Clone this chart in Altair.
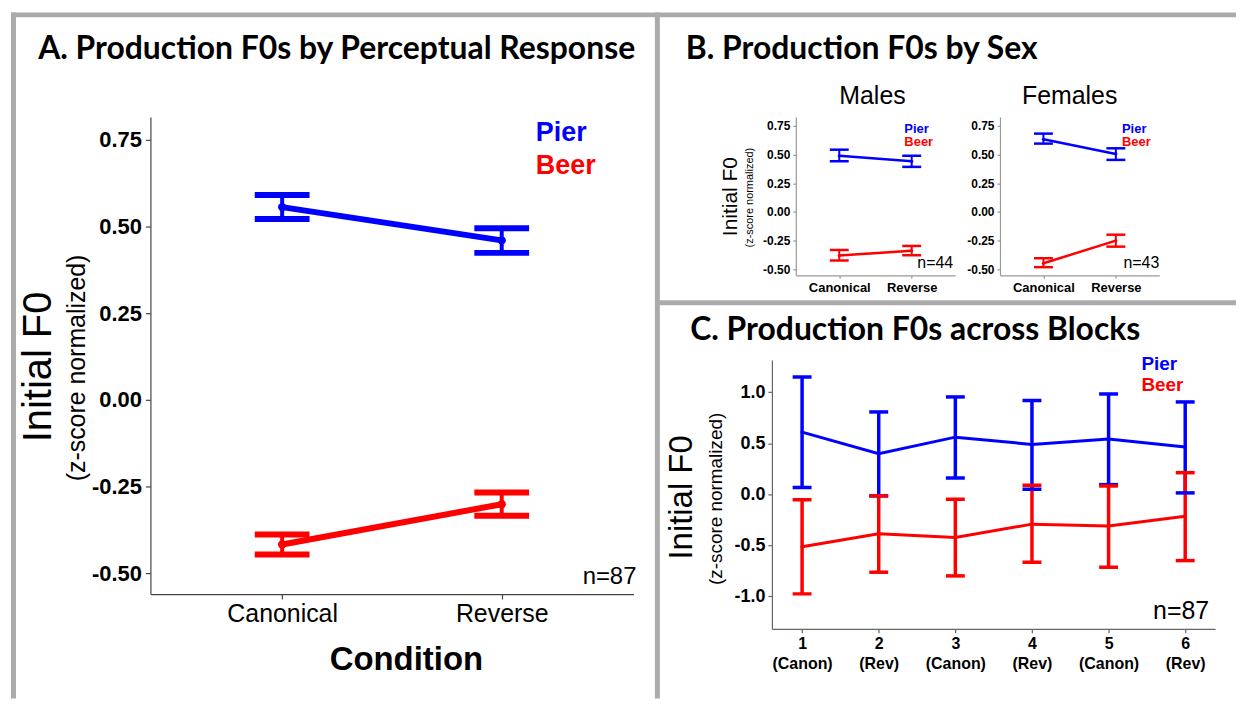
import altair as alt
import pandas as pd

FONT = "Liberation Sans, Arial, sans-serif"
TFONT = "Lato, Open Sans, sans-serif"
BLUE = "#0000ff"
RED = "#ff0000"
BORDER = "#ababab"

# ---------------- data ----------------
series_names = ["Pier", "Beer"]
conditions = ["Canonical", "Reverse"]

# Panel A
a_pier_mean = [0.556, 0.460]
a_pier_lo = [0.522, 0.424]
a_pier_hi = [0.591, 0.495]
a_beer_mean = [-0.417, -0.301]
a_beer_lo = [-0.446, -0.334]
a_beer_hi = [-0.388, -0.267]

# Panel B - Males
m_pier_mean = [0.490, 0.442]
m_pier_lo = [0.442, 0.393]
m_pier_hi = [0.543, 0.490]
m_beer_mean = [-0.380, -0.337]
m_beer_lo = [-0.423, -0.377]
m_beer_hi = [-0.331, -0.296]

# Panel B - Females
f_pier_mean = [0.634, 0.506]
f_pier_lo = [0.596, 0.454]
f_pier_hi = [0.683, 0.555]
f_beer_mean = [-0.447, -0.250]
f_beer_lo = [-0.481, -0.302]
f_beer_hi = [-0.403, -0.198]

# Panel C
blocks = [1, 2, 3, 4, 5, 6]
block_conditions = ["(Canon)", "(Rev)", "(Canon)", "(Rev)", "(Canon)", "(Rev)"]
c_pier_mean = [0.608, 0.397, 0.559, 0.488, 0.540, 0.462]
c_pier_lo = [0.065, -0.016, 0.159, 0.049, 0.094, 0.013]
c_pier_hi = [1.148, 0.806, 0.953, 0.917, 0.982, 0.904]
c_beer_mean = [-0.514, -0.387, -0.423, -0.293, -0.312, -0.215]
c_beer_lo = [-0.976, -0.764, -0.800, -0.667, -0.715, -0.650]
c_beer_hi = [-0.055, -0.016, -0.049, 0.088, 0.081, 0.211]

y_ticks_ab = [-0.5, -0.25, 0.0, 0.25, 0.5, 0.75]
y_ticks_c = [-1.0, -0.5, 0.0, 0.5, 1.0]


def series_df(xs, pm, plo, phi, bm, blo, bhi):
    rows = []
    for name, m, lo, hi in [("Pier", pm, plo, phi), ("Beer", bm, blo, bhi)]:
        for i, x in enumerate(xs):
            rows.append({"series": name, "x": x, "mean": m[i], "lo": lo[i], "hi": hi[i]})
    return pd.DataFrame(rows)


def text_layer(txt, x, y, size, color="black", weight="normal", font=FONT,
               align="left", baseline="alphabetic", angle=0):
    df = pd.DataFrame({"t": [txt]})
    kw = dict(fontSize=size, color=color, fontWeight=weight, font=font,
              align=align, baseline=baseline)
    if angle:
        kw["angle"] = angle
    return alt.Chart(df).mark_text(**kw).encode(
        x=alt.value(x), y=alt.value(y), text="t:N")


def hline(x, x2, y, width=5, color=BORDER):
    df = pd.DataFrame({"k": [0]})
    return alt.Chart(df).mark_rule(strokeWidth=width, color=color, strokeCap="butt").encode(
        x=alt.value(x), x2=alt.value(x2), y=alt.value(y))


def vline(x, y, y2, width=5, color=BORDER):
    df = pd.DataFrame({"k": [0]})
    return alt.Chart(df).mark_rule(strokeWidth=width, color=color, strokeCap="butt").encode(
        x=alt.value(x), y=alt.value(y), y2=alt.value(y2))


def panel(df, xdom, ydom, yvals, ydec, xvals, xlabel_expr,
          cap_w, cap_th, line_w, rule_w, pt_size,
          ylab_size, xlab_size, xlab_weight, axis_color, tick_size,
          xlab_pad, ylab_pad, line_height=None):
    color = alt.Color("series:N", scale=alt.Scale(domain=series_names, range=[BLUE, RED]),
                      legend=None)
    xs = alt.Scale(domain=xdom, nice=False, zero=False)
    ys = alt.Scale(domain=ydom, nice=False, zero=False)
    xkw = dict(values=xvals, labelExpr=xlabel_expr, title=None, labelFont=FONT,
               labelFontSize=xlab_size, labelFontWeight=xlab_weight, labelColor="black",
               domainColor=axis_color, tickColor=axis_color, tickSize=tick_size,
               labelPadding=xlab_pad, grid=False, labelAngle=0, labelFlush=False,
               labelOverlap=False, domainWidth=1.2, tickWidth=1.2)
    if line_height:
        xkw["labelLineHeight"] = line_height
    xaxis = alt.Axis(**xkw)
    yexpr = "(datum.value < 0 ? '-' : '') + format(abs(datum.value), '.%df')" % ydec
    yaxis = alt.Axis(values=yvals, labelExpr=yexpr, title=None, labelFont=FONT,
                     labelFontSize=ylab_size, labelFontWeight="bold", labelColor="black",
                     domainColor=axis_color, tickColor=axis_color, tickSize=tick_size,
                     labelPadding=ylab_pad, grid=False, labelFlush=False,
                     labelOverlap=False, domainWidth=1.2, tickWidth=1.2)

    def X():
        return alt.X("x:Q", scale=xs, axis=xaxis)

    def Y(f):
        return alt.Y(f"{f}:Q", scale=ys, axis=yaxis)

    base = alt.Chart(df)
    line = base.mark_line(strokeWidth=line_w).encode(x=X(), y=Y("mean"), color=color,
                                                      detail="series:N")
    rule = base.mark_rule(strokeWidth=rule_w).encode(x=X(), y=Y("lo"), y2="hi:Q", color=color)
    tlo = base.mark_tick(orient="horizontal", size=cap_w, thickness=cap_th, opacity=1).encode(
        x=X(), y=Y("lo"), color=color)
    thi = base.mark_tick(orient="horizontal", size=cap_w, thickness=cap_th, opacity=1).encode(
        x=X(), y=Y("hi"), color=color)
    pts = base.mark_point(filled=True, size=pt_size, opacity=1).encode(
        x=X(), y=Y("mean"), color=color)
    return [line, rule, tlo, thi, pts]


cond_expr = "[" + ",".join("'%s'" % c for c in conditions) + "][datum.value - 1]"
block_expr = ("[format(datum.value, 'd'), [" + ",".join("'%s'" % c for c in block_conditions)
              + "][datum.value - 1]]")

# ---------------- Panel A ----------------
dfA = series_df([1, 2], a_pier_mean, a_pier_lo, a_pier_hi, a_beer_mean, a_beer_lo, a_beer_hi)
layersA = panel(dfA, [0.4, 2.6], [-0.560, 0.816], y_ticks_ab, 2,
                [1, 2], cond_expr, 55, 6, 6, 4, 70,
                22, 25, "normal", "#444444", 5, 3, 4)
extrasA = [
    # frame lines (relative to panel A plot origin)
    hline(-140, 1090, -102.5),
    vline(-137.5, -105, 584),
    vline(509, -105, 584),
    hline(509, 1090, 186.5),
    text_layer("A. Production F0s by Perceptual Response", 187, -58, 32, weight="bold",
               font=TFONT, align="center"),
    text_layer("Initial F0", -112, 251, 40, align="center", baseline="middle", angle=270),
    text_layer("(z-score normalized)", -74, 252, 25, align="center", baseline="middle",
               angle=270),
    text_layer("Condition", 257, 555, 33, weight="bold", align="center"),
    text_layer("Pier", 387, 24, 27, color=BLUE, weight="bold"),
    text_layer("Beer", 387, 57, 27, color=RED, weight="bold"),
    text_layer("n=87", 488, 469, 24, align="right"),
]
chartA = alt.layer(*(layersA + extrasA)).properties(width=485, height=479)

# ---------------- Panel B ----------------
dfM = series_df([1, 2], m_pier_mean, m_pier_lo, m_pier_hi, m_beer_mean, m_beer_lo, m_beer_hi)
dfF = series_df([1, 2], f_pier_mean, f_pier_lo, f_pier_hi, f_beer_mean, f_beer_lo, f_beer_hi)
layersM = panel(dfM, [0.4, 2.6], [-0.552, 0.828], y_ticks_ab, 2,
                [1, 2], cond_expr, 19, 2.5, 2.5, 2, 10,
                12, 13, "bold", "#999999", 3, 3, 3)
layersF = panel(dfF, [0.4, 2.6], [-0.552, 0.828], y_ticks_ab, 2,
                [1, 2], cond_expr, 19, 2.5, 2.5, 2, 10,
                12, 13, "bold", "#999999", 3, 3, 3)
extrasM = [
    text_layer("B. Production F0s by Sex", -110.5, -58, 32, weight="bold", font=TFONT),
    text_layer("Males", 77, -13, 25, align="center"),
    text_layer("Initial F0", -65.5, 80, 21, align="center", baseline="middle", angle=270),
    text_layer("(z-score normalized)", -46, 81, 11, align="center", baseline="middle",
               angle=270),
    text_layer("Pier", 109, 16, 13, color=BLUE, weight="bold"),
    text_layer("Beer", 109, 29, 13, color=RED, weight="bold"),
    text_layer("n=44", 158, 152, 16, align="right"),
]
extrasF = [
    text_layer("Females", 70, -13, 25, align="center"),
    text_layer("Pier", 122.5, 16, 13, color=BLUE, weight="bold"),
    text_layer("Beer", 122.5, 29, 13, color=RED, weight="bold"),
    text_layer("n=43", 160, 152, 16, align="right"),
]
chartM = alt.layer(*(layersM + extrasM)).properties(width=160, height=159)
chartF = alt.layer(*(layersF + extrasF)).properties(width=160, height=159)

spacer = alt.Chart(pd.DataFrame({"k": [0]})).mark_point(opacity=0).encode(
    x=alt.value(0), y=alt.value(0)).properties(width=24, height=159)

# ---------------- Panel C ----------------
dfC = series_df(blocks, c_pier_mean, c_pier_lo, c_pier_hi, c_beer_mean, c_beer_lo, c_beer_hi)
layersC = panel(dfC, [0.606, 6.39], [-1.319, 1.315], y_ticks_c, 1,
                blocks, block_expr, 19, 3.5, 3, 3.5, 12,
                18, 16, "bold", "#666666", 4, 3, 3, line_height=20)
extrasC = [
    text_layer("C. Production F0s across Blocks", -82, -20, 32, weight="bold", font=TFONT),
    text_layer("Initial F0", -90, 138, 33, align="center", baseline="middle", angle=270),
    text_layer("(z-score normalized)", -56.5, 139.5, 19, align="center", baseline="middle",
               angle=270),
    text_layer("Pier", 371, 10, 19, color=BLUE, weight="bold"),
    text_layer("Beer", 371, 31, 19, color=RED, weight="bold"),
    text_layer("n=87", 439, 260, 25, align="right"),
]
chartC = alt.layer(*(layersC + extrasC)).properties(width=445, height=270)

# ---------------- layout ----------------
# nested concat groups report no height under flush bounds, so the gap below
# panel B's row includes that row's plot height (159) plus the 85 px gap
mf = alt.hconcat(chartM, chartF, spacing=45, bounds="flush")
brow = alt.hconcat(spacer, mf, spacing=0, bounds="flush")
right = alt.vconcat(brow, chartC, spacing=244, bounds="flush")
chart = alt.hconcat(chartA, right, spacing=139, bounds="flush").properties(
    padding=0, background="white"
).configure_view(strokeWidth=0).configure_axis(grid=False)

chart.save("out.html", embed_options={"renderer": "svg", "actions": False})
